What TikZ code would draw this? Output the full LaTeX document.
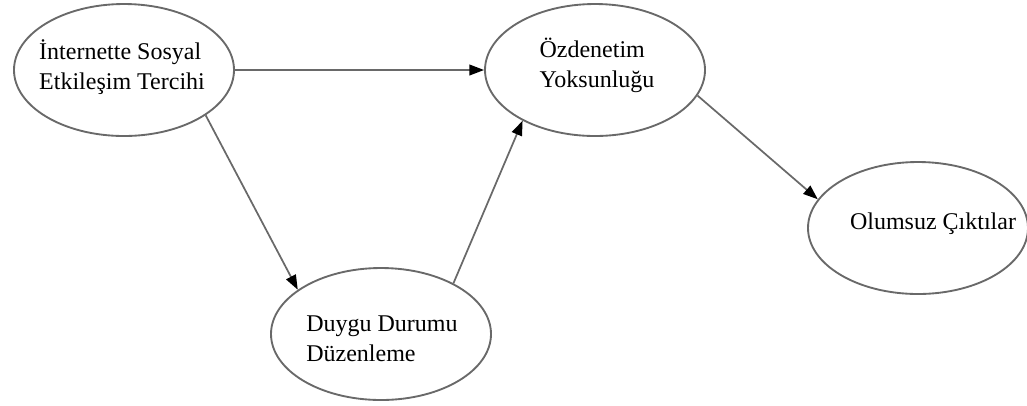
\documentclass[tikz,border=0pt]{standalone}
\usepackage{fontspec}
\setmainfont{Liberation Serif}
\usetikzlibrary{shapes.geometric,arrows.meta}
\definecolor{edgegray}{RGB}{105,105,105}
\begin{document}
\begin{tikzpicture}[x=0.75pt,y=-0.75pt,
  oval/.style={ellipse, draw=edgegray, line width=1.4pt, fill=white, minimum width=165pt, minimum height=99pt, inner sep=0pt},
  txt/.style={align=left, inner sep=0pt, font=\fontsize{18}{22.5}\selectfont},
  link/.style={draw=edgegray, line width=1.3pt, -{Triangle[length=11pt,width=8pt,black]}}]
\useasboundingbox (0,0) rectangle (1027,405);
\node [oval] (isp) at (124,70) {};
\node [oval] (ozd) at (595,70) {};
\node [oval] (olm) at (918,228) {};
\node [oval] (ddd) at (381,334) {};
\node [txt] (isp-t) at (122,67) {İnternette Sosyal\\Etkileşim Tercihi};
\node [txt] (ozd-t) at (597,65) {Özdenetim\\Yoksunluğu};
\node [txt] (olm-t) at (933,224) {Olumsuz Çıktılar};
\node [txt] (ddd-t) at (382,339) {Duygu Durumu\\Düzenleme};
\draw [link] (isp) -- (ozd);
\draw [link] (isp.-29) -- (ddd.152);
\draw [link] (ddd.35) -- (ozd.215);
\draw [link] (ozd.-14) -- (olm.164);
\end{tikzpicture}
\end{document}
